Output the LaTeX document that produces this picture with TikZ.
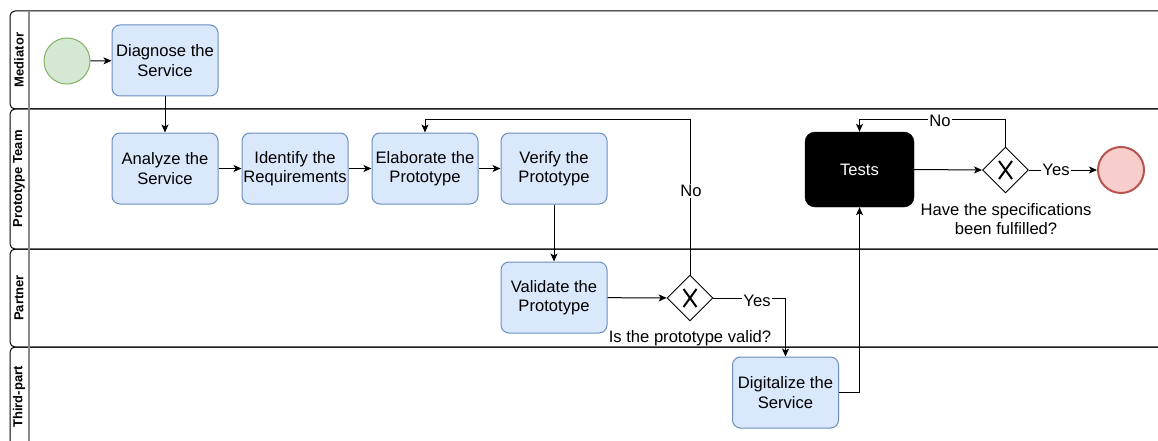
\documentclass[tikz,border=0pt]{standalone}
\usepackage{fontspec}
\setmainfont{Liberation Sans}
\usetikzlibrary{arrows.meta,shapes.geometric,calc}
\definecolor{bfill}{HTML}{DAE8FC}
\definecolor{bdraw}{HTML}{6C8EBF}
\definecolor{gfill}{HTML}{D5E8D4}
\definecolor{gdraw}{HTML}{82B366}
\definecolor{rfill}{HTML}{F8CECC}
\definecolor{rdraw}{HTML}{B85450}
\definecolor{hdrline}{HTML}{8A8A8A}
\begin{document}
\begin{tikzpicture}[x=1pt,y=-1pt,
  every node/.style={font=\fontsize{16.6}{19.5}\selectfont},
  task/.style={draw=bdraw, fill=bfill, rounded corners=8pt, minimum width=106pt, minimum height=71pt, align=center, inner sep=0pt, line width=1pt},
  testbox/.style={draw=black, fill=black, text=white, rounded corners=10pt, minimum width=109pt, minimum height=75pt, inner sep=0pt},
  gw/.style={diamond, draw=black, fill=white, minimum width=46pt, minimum height=46pt, inner sep=0pt, line width=0.9pt},
  xmark/.style={draw=black, line width=2pt},
  startev/.style={circle, draw=gdraw, fill=gfill, minimum size=46pt, inner sep=0pt, line width=1pt},
  endev/.style={circle, draw=rdraw, fill=rfill, minimum size=46pt, inner sep=0pt, line width=2pt},
  arr/.style={draw=black, line width=1pt, -{Stealth[length=8pt,width=7pt,inset=2pt]}},
  lbl/.style={fill=white, inner sep=1pt},
  txt/.style={inner sep=0pt, align=center},
  lane/.style={draw=black, line width=1pt, rounded corners=5pt},
  hdr/.style={draw=hdrline, line width=1.6pt},
  lanelbl/.style={rotate=90, font=\fontsize{13}{15}\selectfont\bfseries, inner sep=0pt}
]
\useasboundingbox (0,0) rectangle (1158,441);
\clip (0,0) rectangle (1158,441);
\fill[white] (0,0) rectangle (1158,441);

% lanes
\draw[lane] (1170,11) -- (10,11) -- (10,109) -- (1170,109);
\draw[lane] (1170,109) -- (10,109) -- (10,249) -- (1170,249);
\draw[lane] (1170,249) -- (10,249) -- (10,347) -- (1170,347);
\draw[lane] (1170,347) -- (10,347) -- (10,460) -- (1170,460);
\draw[hdr] (29,11) -- (29,460);

\node[lanelbl] (l1) at (19,60) {Mediator};
\node[lanelbl] (l2) at (19,179) {Prototype Team};
\node[lanelbl] (l3) at (19,298) {Partner};
\node[lanelbl] (l4) at (19,397) {Third-part};

% nodes
\node[startev] (start) at (67,61) {};
\node[task] (diag) at (165,60.5) {Diagnose the\\Service};
\node[task] (anal) at (165,168.5) {Analyze the\\Service};
\node[task] (ident) at (295,168.5) {Identify the\\Requirements};
\node[task] (elab) at (425,168.5) {Elaborate the\\Prototype};
\node[task] (verif) at (554,168.5) {Verify the\\Prototype};
\node[task] (valid) at (554,297.5) {Validate the\\Prototype};
\node[gw] (g1) at (690,298) {};
\draw[xmark] ([shift={(-6.5,-9)}]g1.center) -- ([shift={(6.5,9)}]g1.center);
\draw[xmark] ([shift={(6.5,-9)}]g1.center) -- ([shift={(-6.5,9)}]g1.center);
\node[task] (digit) at (785.5,392.5) {Digitalize the\\Service};
\node[testbox] (tests) at (859.5,169.5) {Tests};
\node[gw] (g2) at (1005.5,170) {};
\draw[xmark] ([shift={(-6.5,-9)}]g2.center) -- ([shift={(6.5,9)}]g2.center);
\draw[xmark] ([shift={(6.5,-9)}]g2.center) -- ([shift={(-6.5,9)}]g2.center);
\node[endev] (end) at (1121,170) {};

\node[txt] (q1) at (690,338) {Is the prototype valid?};
\node[txt] (q2) at (1006,219) {Have the specifications\\been fulfilled?};

\coordinate (ytop) at (0,120);

% connectors
\draw[arr] (start) -- (diag);
\draw[arr] (diag) -- (anal);
\draw[arr] (anal) -- (ident);
\draw[arr] (ident) -- (elab);
\draw[arr] (elab) -- (verif);
\draw[arr] (verif) -- (valid);
\draw[arr] (valid) -- (g1);
\draw[arr] (g1.north) -- (g1.north |- ytop) -| (elab.north);
\node[lbl] (no1) at (691,191) {No};
\draw[arr] (g1.east) -| (digit.north);
\node[lbl] (yes1) at (757,301) {Yes};
\draw[arr] (digit.east) -| (tests.south);
\draw[arr] (tests.east) -- (g2.west);
\draw[arr] (g2.east) -- (end.west);
\node[lbl] (yes2) at (1056,170) {Yes};
\draw[arr] (g2.north) -- (g2.north |- ytop) -| (tests.north);
\node[lbl] (no2) at (940,121) {No};
\end{tikzpicture}
\end{document}
